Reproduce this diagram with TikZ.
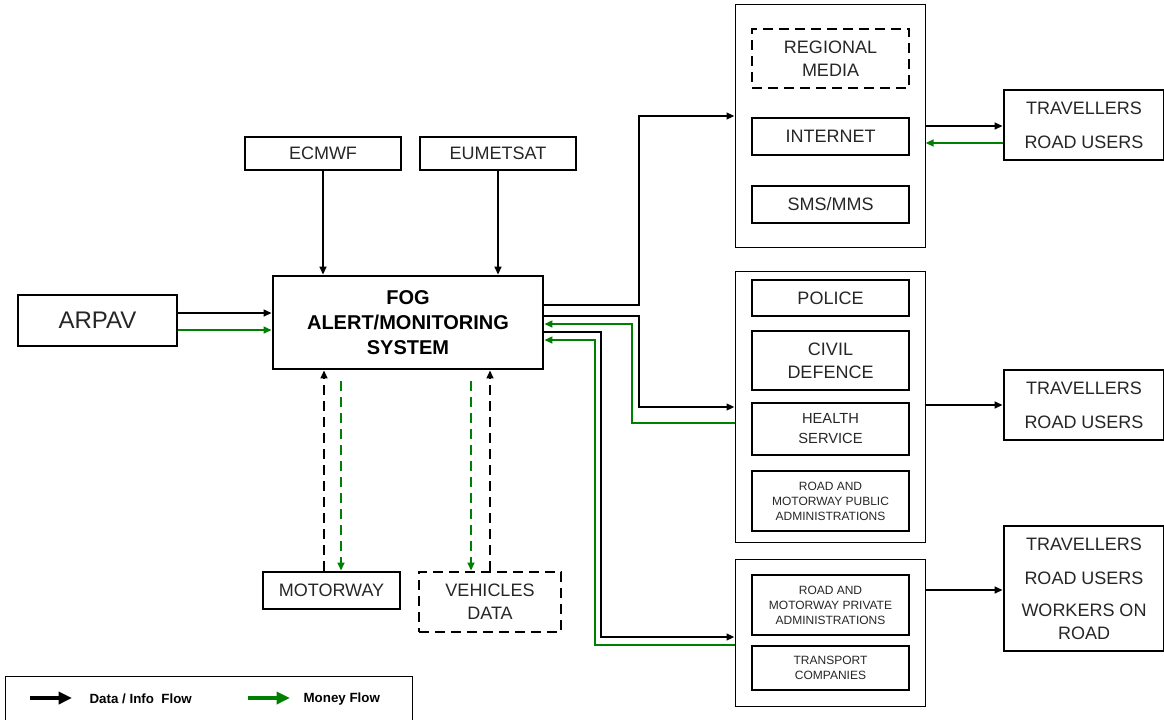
\documentclass[tikz,border=0pt]{standalone}
\usepackage{fontspec}
\setmainfont{Liberation Sans}
\usepackage{tikz}
\usetikzlibrary{arrows.meta,calc}

\begin{document}
\begin{tikzpicture}[x=0.75pt, y=-0.75pt,
    %Option for nice arrows
    >={Triangle[length=6pt,width=5pt]}, %
    inner sep=1pt,%
    data/.style={line width=1.5pt,->},
    money/.style={line width=1.5pt,->,color=moneygreen},
    dashedflow/.style={dash pattern=on 7.5pt off 4.5pt},
    block/.style={draw, line width=2pt, align=center, text=black!85,
        font=\fontsize{13.5}{17}\selectfont},
    inner/.style={block, minimum width=117.75pt},
    group/.style={draw, line width=0.75pt, minimum width=142.5pt},
    users/.style={block, minimum width=120pt},
]
    % Colors
    \colorlet{moneygreen}{green!50!black}

    \useasboundingbox (0,0) rectangle (1164,719);

    % Sources
    \node[block, minimum width=119.25pt, minimum height=38.25pt,
        font=\fontsize{18}{21}\selectfont] (arpav) at (97.5,320.5) {ARPAV};
    \node[block, minimum width=202.5pt, minimum height=69.75pt,
        font=\fontsize{15}{18.5}\selectfont\bfseries, text=black]
        (fog) at (408,322.5) {FOG\\ALERT/MONITORING\\SYSTEM};
    \node[block, minimum width=117pt, minimum height=24.75pt] (ecmwf) at (323,153.5) {ECMWF};
    \node[block, minimum width=117pt, minimum height=24.75pt] (eumetsat) at (498,153.5) {EUMETSAT};
    \node[block, minimum width=102.75pt, minimum height=27.75pt] (motorway) at (331.5,590.5) {MOTORWAY};
    \node[block, dashedflow, minimum width=106.5pt, minimum height=45pt]
        (vehicles) at (490,602) {VEHICLES\\DATA};

    % Media, services, administrations
    \node[group, minimum height=182.25pt] (topgrp) at (830,125.5) {};
    \node[group, minimum height=203.25pt] (midgrp) at (830,406.5) {};
    \node[group, minimum height=110.25pt] (botgrp) at (830,632.5) {};

    \node[inner, dashedflow, minimum height=44.25pt] (media) at (830.5,58.5) {REGIONAL\\MEDIA};
    \node[inner, minimum height=27.75pt] (internet) at (830.5,136.5) {INTERNET};
    \node[inner, minimum height=27.75pt] (sms) at (830.5,204.5) {SMS/MMS};

    \node[inner, minimum height=27pt] (police) at (830.5,298) {POLICE};
    \node[inner, minimum height=44.25pt] (civil) at (830.5,360.5) {CIVIL\\DEFENCE};
    \node[inner, minimum height=39pt, font=\fontsize{11}{15}\selectfont]
        (health) at (830.5,429) {HEALTH\\SERVICE};
    \node[inner, minimum height=45pt, font=\fontsize{9}{11.25}\selectfont]
        (public) at (830.5,501) {ROAD AND\\MOTORWAY PUBLIC\\ADMINISTRATIONS};

    \node[inner, minimum height=45pt, font=\fontsize{9}{11.25}\selectfont]
        (private) at (830.5,605) {ROAD AND\\MOTORWAY PRIVATE\\ADMINISTRATIONS};
    \node[inner, minimum height=33pt, font=\fontsize{9}{11.25}\selectfont]
        (transport) at (830.5,668) {TRANSPORT\\COMPANIES};

    % End users
    \node[users, minimum height=52.5pt] (trav1) at (1084,125) {TRAVELLERS\\[8.5pt]ROAD USERS};
    \node[users, minimum height=52.5pt] (trav2) at (1084,405) {TRAVELLERS\\[8.5pt]ROAD USERS};
    \node[users, minimum height=93.75pt] (trav3) at (1084,588.5)
        {TRAVELLERS\\[8.5pt]ROAD USERS\\[7pt]WORKERS ON\\ROAD};

    % Inputs to the system
    \draw[data] (arpav.east |- 0,313) -- (fog.west |- 0,313);
    \draw[money] (arpav.east |- 0,330) -- (fog.west |- 0,330);
    \draw[data] (ecmwf) -- (fog.north -| ecmwf);
    \draw[data] (eumetsat) -- (fog.north -| eumetsat);

    \draw[data, dashedflow] (motorway.north -| 324,0) -- (fog.south -| 324,0);
    \draw[money, dashedflow] ($(fog.south -| 341,0)+(0,11)$) -- (motorway.north -| 341,0);
    \draw[money, dashedflow] ($(fog.south -| 471,0)+(0,11)$) -- (vehicles.north -| 471,0);
    \draw[data, dashedflow] (vehicles.north -| 490,0) -- (fog.south -| 490,0);

    % Outputs of the system
    \draw[data] (fog.east |- 0,305) -| (639,116) -- (topgrp.west |- 0,116);
    \draw[data] (fog.east |- 0,316) -| (639,407) -- (midgrp.west |- 0,407);
    \draw[money] (midgrp.west |- 0,423) -| (632,324) -- (fog.east |- 0,324);
    \draw[data] (fog.east |- 0,332) -| (601,637) -- (botgrp.west |- 0,637);
    \draw[money] (botgrp.west |- 0,645) -| (595,340) -- (fog.east |- 0,340);

    \draw[data] (topgrp.east |- 0,126) -- (trav1.west |- 0,126);
    \draw[money] (trav1.west |- 0,143) -- (topgrp.east |- 0,143);
    \draw[data] (midgrp.east |- 0,405) -- (trav2.west |- 0,405);
    \draw[data] (botgrp.east |- 0,590) -- (trav3.west |- 0,590);

    % Legend
    \draw[line width=0.75pt] (5,730) -- (5,676) -- (412,676) -- (412,730);
    \coordinate (datatail) at (30,698);
    \coordinate (moneytail) at (248,698);
    \node[anchor=west, font=\fontsize{10}{12}\selectfont\bfseries] (datalabel) at (88,699) {Data / Info\ \ Flow};
    \node[anchor=west, font=\fontsize{10}{12}\selectfont\bfseries] (moneylabel) at (302,699) {Money Flow};
    \draw[line width=3pt, -{Triangle[length=10pt,width=9pt]}] (datatail) -- ++(42,0);
    \draw[line width=3pt, moneygreen, -{Triangle[length=10pt,width=9pt]}] (moneytail) -- ++(42,0);

\end{tikzpicture}
\end{document}
